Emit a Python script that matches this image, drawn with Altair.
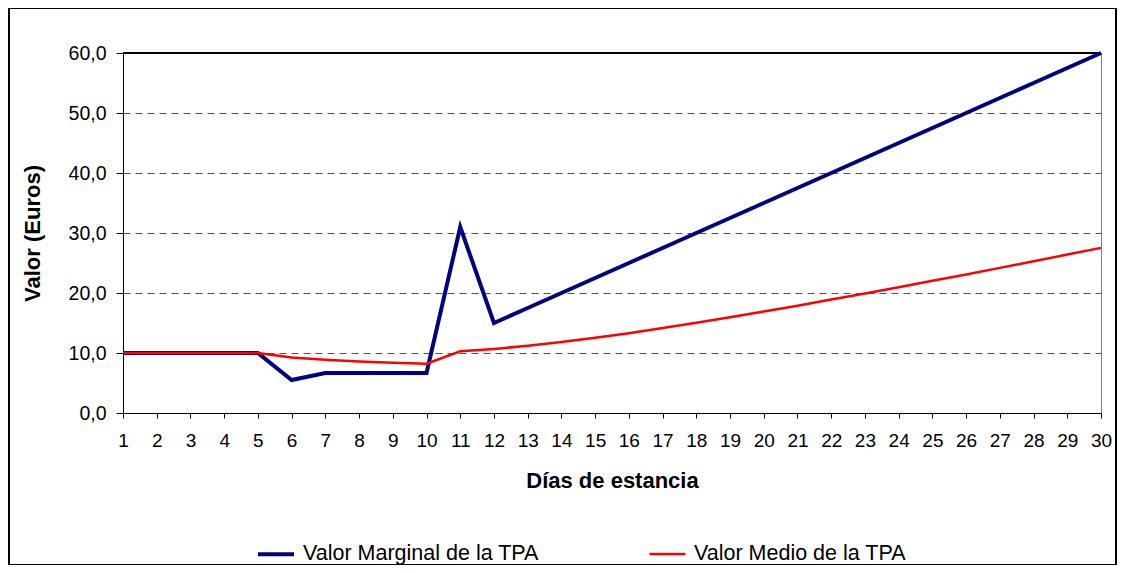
import altair as alt
import pandas as pd

days = [1, 2, 3, 4, 5, 6, 7, 8, 9, 10, 11, 12, 13, 14, 15,
        16, 17, 18, 19, 20, 21, 22, 23, 24, 25, 26, 27, 28, 29, 30]
marginal = [10.0, 10.0, 10.0, 10.0, 10.0, 5.5, 6.67, 6.67, 6.67, 6.67,
            31.0, 15.0, 17.5, 20.0, 22.5, 25.0, 27.5, 30.0, 32.5, 35.0,
            37.5, 40.0, 42.5, 45.0, 47.5, 50.0, 52.5, 55.0, 57.5, 60.0]
medio = [10.0, 10.0, 10.0, 10.0, 10.0, 9.25, 8.88, 8.6, 8.39, 8.22,
         10.29, 10.68, 11.2, 11.84, 12.55, 13.3, 14.16, 15.04, 15.96, 16.91,
         17.89, 18.9, 19.92, 20.97, 22.03, 23.1, 24.19, 25.29, 26.4, 27.52]
series_names = ["Valor Marginal de la TPA", "Valor Medio de la TPA"]
series_colors = ["#000080", "#FF0000"]
series_widths = [4, 2.5]
y_ticks = [0, 10, 20, 30, 40, 50, 60]

rows = []
for d, v in zip(days, marginal):
    rows.append({"dia": d, "valor": v, "serie": series_names[0]})
for d, v in zip(days, medio):
    rows.append({"dia": d, "valor": v, "serie": series_names[1]})
df = pd.DataFrame(rows)

FONT = "Liberation Sans"
W, H = 978, 360
PL, PT, PR, PB = 115, 45, 16, 152

lines = alt.Chart(df).mark_line().encode(
    x=alt.X("dia:Q",
            scale=alt.Scale(domain=[1, 30], nice=False, zero=False),
            axis=alt.Axis(values=days, title="Días de estancia", grid=False,
                          tickSize=5, labelPadding=13, titlePadding=20,
                          labelFlush=False,
                          labelFont=FONT, titleFont=FONT, labelFontSize=19, titleFontSize=22,
                          labelColor="black", titleColor="black", titleFontWeight="bold",
                          domainColor="black", tickColor="black")),
    y=alt.Y("valor:Q",
            scale=alt.Scale(domain=[0, 60], nice=False),
            axis=alt.Axis(values=y_ticks, title="Valor (Euros)",
                          labelExpr="replace(format(datum.value, '.1f'), '.', ',')",
                          tickSize=7, labelPadding=10, titlePadding=24,
                          grid=True, gridDash=[7, 5], gridColor="#555555",
                          labelFont=FONT, titleFont=FONT, labelFontSize=19.5, titleFontSize=22,
                          labelColor="black", titleColor="black", titleFontWeight="bold",
                          domainColor="black", tickColor="black")),
    color=alt.Color("serie:N",
                    scale=alt.Scale(domain=series_names, range=series_colors),
                    legend=alt.Legend(title=None, orient="none", direction="horizontal",
                                      legendX=133, legendY=481,
                                      symbolType="stroke", symbolSize=1296,
                                      symbolStrokeWidth=3.5,
                                      labelOffset=7, columnPadding=105,
                                      labelFont=FONT, labelFontSize=21.5,
                                      labelColor="black", labelLimit=400)),
    strokeWidth=alt.StrokeWidth("serie:N",
                                scale=alt.Scale(domain=series_names, range=series_widths),
                                legend=None),
)

top_line = alt.Chart(df).mark_rule(color="black", strokeWidth=1).encode(
    y=alt.datum(60)
)

frame = alt.Chart(df).mark_rect(fill=None, stroke="black", strokeWidth=1.2, clip=False).encode(
    x=alt.value(-PL + 0.5), x2=alt.value(W + PR - 0.5),
    y=alt.value(-PT + 0.5), y2=alt.value(H + PB - 0.5)
)

chart = alt.layer(top_line, lines, frame).properties(
    width=W, height=H,
    autosize=alt.AutoSizeParams(type="none"),
    padding={"left": PL, "top": PT, "right": PR, "bottom": PB},
    background="white",
).configure_view(
    stroke="#808080", strokeWidth=1
)

chart.save("out.html", embed_options={"renderer": "svg", "actions": False})
